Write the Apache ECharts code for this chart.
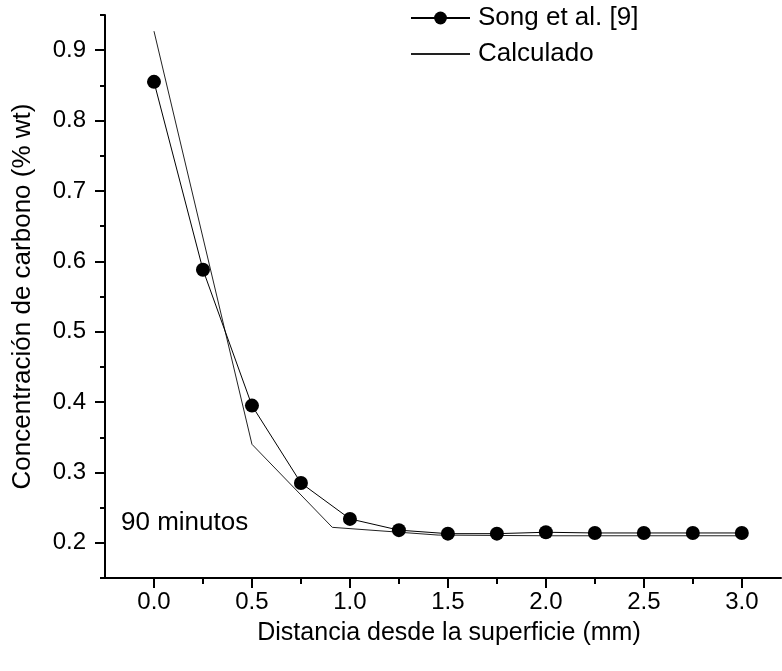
<!DOCTYPE html>
<html>
<head>
<meta charset="utf-8">
<script src="https://cdn.jsdelivr.net/npm/echarts@6/dist/echarts.min.js"></script>
<style>
  html, body { margin: 0; padding: 0; background: #fff; }
  #chart { width: 782px; height: 671px; }
</style>
</head>
<body>
<div id="chart"></div>
<script>
// Carbon concentration profile after 90 minutes
const songX = [0, 0.25, 0.5, 0.75, 1.0, 1.25, 1.5, 1.75, 2.0, 2.25, 2.5, 2.75, 3.0];
const songY = [0.855, 0.588, 0.395, 0.285, 0.234, 0.218, 0.213, 0.213, 0.215, 0.214, 0.214, 0.214, 0.214];

const calcX = [0, 0.5, 0.91, 1.45, 2.0, 2.5, 3.0];
const calcY = [0.927, 0.340, 0.222, 0.211, 0.210, 0.210, 0.210];

const xMajorTicks = [0, 0.5, 1.0, 1.5, 2.0, 2.5, 3.0];
const xMinorTicks = [0.25, 0.75, 1.25, 1.75, 2.25, 2.75];
const yMajorTicks = [0.2, 0.3, 0.4, 0.5, 0.6, 0.7, 0.8, 0.9];
const yMinorTicks = [0.15, 0.25, 0.35, 0.45, 0.55, 0.65, 0.75, 0.85, 0.95];

const seriesNames = ['Song et al. [9]', 'Calculado'];
const xTitle = 'Distancia desde la superficie (mm)';
const yTitle = 'Concentración de carbono (% wt)';
const note = '90 minutos';

const FONT = '"Liberation Sans", Arial, sans-serif';
const X_MIN = -0.25, X_MAX = 3.2, Y_MIN = 0.15, Y_MAX = 0.95;

const chart = echarts.init(document.getElementById('chart'), null, { renderer: 'canvas' });

const axisLine = { show: true, onZero: false, lineStyle: { color: '#000', width: 2 } };

chart.setOption({
  animation: false,
  backgroundColor: '#fff',
  grid: { left: 105, top: 15, width: 676, height: 563, containLabel: false },
  legend: {
    orient: 'vertical',
    left: 410,
    top: 5,
    padding: 0,
    itemWidth: 59,
    itemHeight: 16,
    itemGap: 10,
    textStyle: { fontFamily: FONT, fontSize: 26, color: '#000', lineHeight: 26, padding: [0, 0, 0, 3] },
    data: [
      { name: seriesNames[0] },
      { name: seriesNames[1], itemStyle: { opacity: 0 } }
    ]
  },
  xAxis: [
    {
      type: 'value', min: X_MIN, max: X_MAX,
      position: 'bottom',
      name: xTitle, nameLocation: 'middle', nameGap: 43,
      nameTextStyle: { fontFamily: FONT, fontSize: 25, color: '#000', padding: [0, 0, 0, 12] },
      axisLine: axisLine,
      axisTick: { show: true, inside: false, length: 10, customValues: xMajorTicks, lineStyle: { color: '#000', width: 2 } },
      axisLabel: {
        show: true, margin: 12, customValues: xMajorTicks,
        fontFamily: FONT, fontSize: 24, color: '#000',
        formatter: v => v.toFixed(1)
      },
      splitLine: { show: false }
    },
    {
      type: 'value', min: X_MIN, max: X_MAX,
      position: 'bottom',
      axisLine: { show: false, onZero: false },
      axisTick: { show: true, inside: false, length: 6, customValues: xMinorTicks, lineStyle: { color: '#000', width: 2 } },
      axisLabel: { show: false },
      splitLine: { show: false }
    }
  ],
  yAxis: [
    {
      type: 'value', min: Y_MIN, max: Y_MAX,
      position: 'left',
      name: yTitle, nameLocation: 'middle', nameGap: 69,
      nameTextStyle: { fontFamily: FONT, fontSize: 26, color: '#000' },
      axisLine: axisLine,
      axisTick: { show: true, inside: false, length: 10, customValues: yMajorTicks, lineStyle: { color: '#000', width: 2 } },
      axisLabel: {
        show: true, margin: 19, customValues: yMajorTicks,
        fontFamily: FONT, fontSize: 24, color: '#000',
        formatter: v => v.toFixed(1)
      },
      splitLine: { show: false }
    },
    {
      type: 'value', min: Y_MIN, max: Y_MAX,
      position: 'left',
      axisLine: { show: false, onZero: false },
      axisTick: { show: true, inside: false, length: 5, customValues: yMinorTicks, lineStyle: { color: '#000', width: 2 } },
      axisLabel: { show: false },
      splitLine: { show: false }
    }
  ],
  graphic: [
    {
      type: 'text',
      left: 121, top: 510,
      style: { text: note, font: '26px ' + FONT, fill: '#000' }
    }
  ],
  series: [
    {
      name: seriesNames[0],
      type: 'line',
      xAxisIndex: 0, yAxisIndex: 0,
      data: songX.map((x, i) => [x, songY[i]]),
      symbol: 'circle',
      symbolSize: 14,
      showAllSymbol: true,
      itemStyle: { color: '#000' },
      lineStyle: { color: '#000', width: 1 },
      z: 3
    },
    {
      name: seriesNames[1],
      type: 'line',
      xAxisIndex: 0, yAxisIndex: 0,
      data: calcX.map((x, i) => [x, calcY[i]]),
      symbol: 'none',
      itemStyle: { color: '#222' },
      lineStyle: { color: '#222', width: 1 },
      z: 2
    }
  ]
});
</script>
</body>
</html>
